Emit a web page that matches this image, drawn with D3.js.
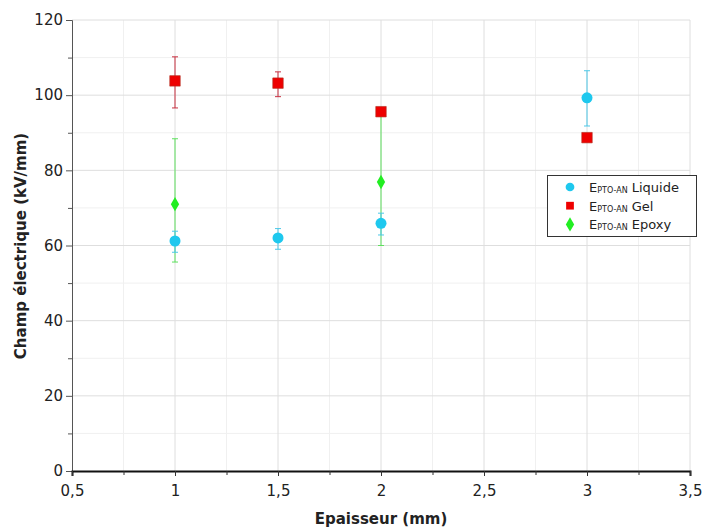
<!DOCTYPE html>
<html><head><meta charset="utf-8">
<script src="https://cdn.jsdelivr.net/npm/d3@7"></script>
<style>body{margin:0;background:#fff}svg{display:block}text{font-family:Tahoma,"DejaVu Sans",sans-serif}</style>
</head><body><svg id="c" width="704" height="528"></svg>
<script>
const thickness = [1, 1.5, 2, 3];
const liquide = [61.2, 62.0, 65.9, 99.3];
const liquideLow = [58.2, 59.0, 62.8, 91.8];
const liquideHigh = [63.8, 64.5, 68.6, 106.5];
const gel = [103.8, 103.2, 95.6, 88.7];
const gelLow = [96.6, 99.6, 95.6, 88.7];
const gelHigh = [110.2, 106.2, 95.6, 88.7];
const epoxy = [71.0, null, 76.9, null];
const epoxyLow = [55.6, null, 60.0, null];
const epoxyHigh = [88.4, null, 95.6, null];
const xTicks = [0.5, 1, 1.5, 2, 2.5, 3, 3.5];
const yTicks = [0, 20, 40, 60, 80, 100, 120];
const legendLabels = ["Liquide", "Gel", "Epoxy"];

const svg = d3.select("#c");
const x = d3.scaleLinear().domain([0.5, 3.5]).range([72, 690]);
const y = d3.scaleLinear().domain([0, 120]).range([471, 20]);
const fmt = d => String(d).replace(".", ",");

// grid
const minorX = d3.range(0.75, 3.5, 0.5);
const minorY = d3.range(10, 120, 20);
svg.append("g").selectAll("line").data(minorX).join("line")
  .attr("x1", d => x(d)).attr("x2", d => x(d)).attr("y1", y(0)).attr("y2", y(120))
  .attr("stroke", "#f0f0f0");
svg.append("g").selectAll("line").data(minorY).join("line")
  .attr("y1", d => y(d)).attr("y2", d => y(d)).attr("x1", x(0.5)).attr("x2", x(3.5))
  .attr("stroke", "#f0f0f0");
svg.append("g").selectAll("line").data(xTicks.slice(1)).join("line")
  .attr("x1", d => x(d)).attr("x2", d => x(d)).attr("y1", y(0)).attr("y2", y(120))
  .attr("stroke", "#dedede");
svg.append("g").selectAll("line").data(yTicks.slice(1)).join("line")
  .attr("y1", d => y(d)).attr("y2", d => y(d)).attr("x1", x(0.5)).attr("x2", x(3.5))
  .attr("stroke", "#dedede");

// axes
const yAxis = svg.append("g").attr("transform", `translate(${x(0.5)},0)`)
  .call(d3.axisLeft(y).tickValues(yTicks).tickSize(6).tickPadding(3));
yAxis.select(".domain").attr("stroke", "#555");
yAxis.selectAll(".tick line").attr("stroke", "#555");
yAxis.selectAll("text").attr("font-size", 15).attr("fill", "#222");
svg.append("g").attr("transform", `translate(${x(0.5)},0)`)
  .call(d3.axisLeft(y).tickValues(minorY).tickSize(4).tickFormat(""))
  .call(g => g.select(".domain").remove())
  .selectAll("line").attr("stroke", "#555");

const xAxis = svg.append("g").attr("transform", `translate(0,${y(0)})`)
  .call(d3.axisBottom(x).tickValues(xTicks).tickFormat(fmt).tickSize(5).tickPadding(9));
xAxis.select(".domain").attr("stroke", "#111").attr("stroke-width", 2);
xAxis.selectAll(".tick line").attr("stroke", "#333");
xAxis.selectAll("text").attr("font-size", 15).attr("fill", "#222");
svg.append("g").attr("transform", `translate(0,${y(0)})`)
  .call(d3.axisBottom(x).tickValues(minorX).tickSize(4).tickFormat(""))
  .call(g => g.select(".domain").remove())
  .selectAll("line").attr("stroke", "#333");

svg.append("text").attr("x", 381).attr("y", 524).attr("text-anchor", "middle")
  .attr("font-size", 15).attr("font-weight", "bold").attr("fill", "#222").text("Epaisseur (mm)");
svg.append("text").attr("transform", "translate(26,246) rotate(-90)").attr("text-anchor", "middle")
  .attr("font-size", 15).attr("font-weight", "bold").attr("fill", "#222").text("Champ électrique (kV/mm)");

// error bars
function errBars(vals, lo, hi, color) {
  const d = thickness.map((t, i) => ({t, v: vals[i], lo: lo[i], hi: hi[i]})).filter(e => e.v != null);
  const g = svg.append("g").attr("stroke", color).attr("stroke-width", 1);
  g.selectAll(".v").data(d).join("line").attr("x1", e => x(e.t)).attr("x2", e => x(e.t))
    .attr("y1", e => y(e.lo)).attr("y2", e => y(e.hi));
  g.selectAll(".h").data(d.flatMap(e => [e.lo, e.hi].map(v => ({t: e.t, v})))).join("line")
    .attr("x1", e => x(e.t) - 3).attr("x2", e => x(e.t) + 3)
    .attr("y1", e => y(e.v)).attr("y2", e => y(e.v));
}
errBars(epoxy, epoxyLow, epoxyHigh, "#5fe05f");
errBars(liquide, liquideLow, liquideHigh, "#4cc8e8");
errBars(gel, gelLow, gelHigh, "#c83040");

const cCol = "#1ec8ee", rCol = "#ee0000", gCol = "#22ee22";
const sym = {
  circle: d3.symbol().type(d3.symbolCircle).size(95),
  square: d3.symbol().type(d3.symbolSquare).size(110),
  diamond: d3.symbol().type(d3.symbolDiamond).size(60)
};
function points(vals, s, color, stroke) {
  svg.append("g").selectAll("path").data(thickness.map((t, i) => ({t, v: vals[i]})).filter(e => e.v != null))
    .join("path").attr("d", s).attr("fill", color).attr("stroke", stroke || "none").attr("stroke-width", 0.6)
    .attr("transform", e => `translate(${x(e.t)},${y(e.v)})`);
}
points(liquide, sym.circle, cCol);
points(epoxy, sym.diamond, gCol);
points(gel, sym.square, rCol, "#b03020");

// legend
const lg = svg.append("g");
lg.append("rect").attr("x", 547.5).attr("y", 175.5).attr("width", 149).attr("height", 61)
  .attr("fill", "#fff").attr("stroke", "#333");
const lcol = [cCol, rCol, gCol];
legendLabels.forEach((lab, i) => {
  const yy = 187 + i * 18.7;
  lg.append("path").attr("d", d3.symbol().type([d3.symbolCircle, d3.symbolSquare, d3.symbolDiamond][i]).size(60))
    .attr("fill", lcol[i]).attr("transform", `translate(570,${yy})`);
  const t = lg.append("text").attr("x", 589).attr("y", yy + 5).attr("font-size", 13).attr("fill", "#222");
  t.append("tspan").text("E");
  t.append("tspan").attr("font-size", 8).attr("dy", 1).text("PTO-AN");
  t.append("tspan").attr("dy", -1).text(" " + lab);
});
</script></body></html>
